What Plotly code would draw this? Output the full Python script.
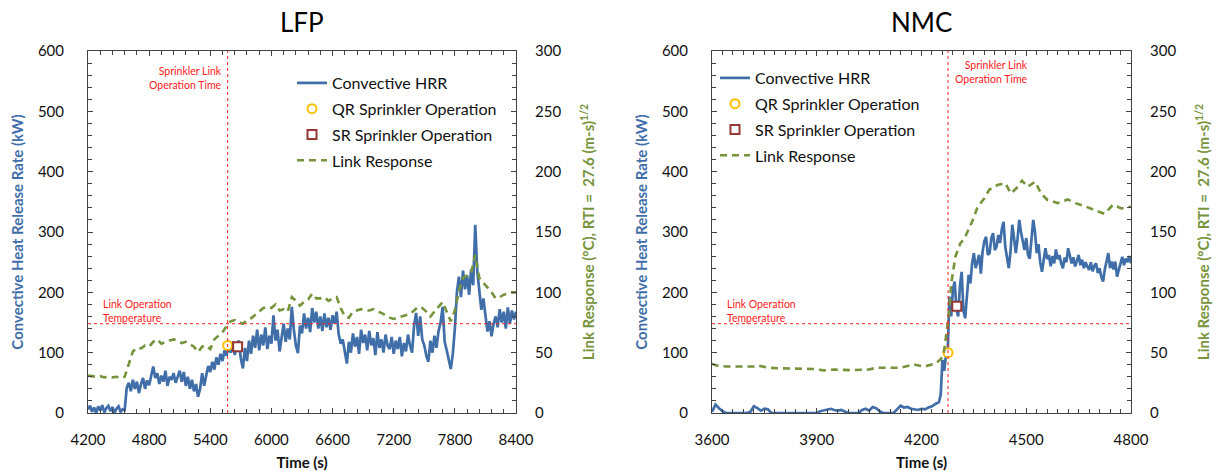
import plotly.graph_objects as go

# ---------------- data ----------------
# LFP convective HRR (kW), 20 s steps 4200..8400
lfp_t = list(range(4200, 8401, 20))
lfp_hrr = [
    6, 12, 2, 9, 0, 11, 4, 13, 1, 8, 12, 3, 10, 0, 7,
    11, 2, 6, 5, 42, 50, 36, 55, 40, 52, 33, 48, 58, 40, 54,
    46, 60, 77, 58, 66, 48, 62, 52, 70, 45, 60, 55, 66, 50, 62,
    70, 52, 68, 45, 60, 40, 55, 36, 48, 27, 40, 66, 45, 62, 78,
    68, 85, 72, 92, 80, 98, 86, 104, 95, 112, 100, 118, 96, 112, 120,
    90, 74, 108, 86, 120, 98, 128, 108, 138, 104, 130, 112, 142, 106, 128,
    115, 162, 120, 138, 102, 130, 148, 118, 140, 122, 176, 138, 112, 99, 145,
    132, 165, 140, 158, 134, 174, 150, 168, 140, 160, 136, 165, 142, 158, 138,
    162, 148, 168, 130, 115, 122, 104, 82, 118, 100, 132, 110, 126, 98, 138,
    116, 130, 104, 136, 112, 124, 96, 134, 108, 122, 100, 130, 112, 106, 126,
    98, 120, 106, 126, 94, 116, 102, 130, 112, 100, 145, 166, 128, 160, 122,
    112, 95, 85, 120, 100, 128, 108, 136, 150, 176, 118, 104, 90, 73, 98,
    140, 200, 226, 192, 236, 205, 228, 196, 238, 212, 312, 235, 200, 171, 190,
    160, 135, 152, 127, 148, 160, 142, 172, 150, 168, 140, 175, 148, 170, 155,
    168,
]
# LFP link response (degC), 40 s steps
lfp_link_t = list(range(4200, 8401, 40))
lfp_link = [
    31, 30.5, 30, 30.5, 29.5, 30, 29.5, 30, 29, 30,
    40, 51, 54, 53.5, 56, 55, 59, 61, 57.5, 59,
    60, 61, 60, 58, 59, 57, 55, 50.5, 55, 56,
    53, 61, 64, 67, 72, 76, 77, 75, 74, 77,
    78.5, 81, 84, 87, 88, 87, 90, 85, 86, 84,
    96, 93, 89, 92, 94, 99, 95, 95, 96, 93,
    95, 96, 87, 80, 79, 84, 85, 86, 85, 85,
    86, 84, 83, 81, 79, 78, 79, 80, 81, 82,
    85, 88, 87, 84, 80, 84, 88, 92, 84, 76,
    85, 101, 112, 114, 116, 131, 112, 108, 104, 100,
    95, 96, 98, 99, 100, 100,
]
lfp_qr = (5570, 112)
lfp_sr = (5668, 110)
lfp_op_time = 5570

# NMC convective HRR (kW)
nmc_t = list(range(3600, 4250, 10)) + list(range(4250, 4801, 5))
nmc_hrr = [
    2, 14, 8, 3, 0, 0, 0, 0, 0, 0,
    0, 2, 11, 8, 4, 7, 6, 0, 0, 0,
    0, 0, 0, 0, 0, 0, 1, 0, 0, 0,
    0, 3, 4, 6, 7, 5, 4, 5, 3, 0,
    0, 0, 0, 5, 7, 4, 10, 8, 3, 0,
    0, 0, 0, 6, 12, 9, 10, 7, 6, 5,
    7, 6, 9, 11, 15,
    18, 30, 88, 70, 95, 100, 193, 160, 205, 218,
    172, 160, 210, 234, 170, 157, 200, 229, 215, 248,
    265, 240, 251, 262, 231, 268, 285, 292, 262, 265,
    290, 298, 270, 276, 295, 282, 305, 317, 275, 259,
    240, 268, 312, 290, 265, 288, 320, 300, 282, 270,
    290, 262, 256, 295, 320, 300, 265, 280, 250, 234,
    258, 273, 255, 262, 243, 260, 248, 271, 255, 262,
    248, 240, 258, 250, 273, 262, 248, 258, 243, 252,
    262, 245, 254, 240, 250, 243, 237, 250, 235, 244,
    248, 232, 240, 226, 218, 238, 255, 265, 240, 251,
    238, 251, 226, 235, 248, 259, 245, 256, 250, 260,
    248,
]
nmc_link_t = [3600, 3610, 3640, 3680, 3720, 3730, 3760, 3800, 3850, 3890,
              3920, 3950, 4000, 4050, 4070, 4110, 4140, 4178, 4207, 4240,
              4253, 4263, 4272, 4279, 4285, 4297, 4311, 4323, 4347, 4361,
              4380, 4394, 4418, 4440, 4456, 4471, 4488, 4504, 4526, 4542,
              4561, 4590, 4619, 4643, 4671, 4700, 4724, 4748, 4772, 4800]
nmc_link = [41, 39.5, 38.5, 38.5, 38.5, 39.5, 37.5, 37, 37, 36.5,
            35.3, 36, 35.5, 36, 37.5, 37.5, 37.5, 40.2, 38.4, 41,
            44, 48, 66, 82.6, 107, 129.5, 140.6, 144.6, 160, 171,
            178, 185, 189, 190.5, 182, 186, 192.5, 187.5, 191.7, 182,
            176.5, 174, 177, 173.7, 171, 168, 165, 172.5, 169.6, 171]
nmc_qr = (4276, 100)
nmc_sr = (4301, 177)
nmc_op_time = 4276

link_temp = 74  # degC

hrr_range = [0, 600]
link_range = [0, 300]
lfp_xrange = [4200, 8400]
nmc_xrange = [3600, 4800]

# ---------------- styling ----------------
W, H = 1217, 471
ML, MR, MT, MB = 88, 86, 51, 58
PW = W - ML - MR
PH = H - MT - MB

def px(xp):
    return (xp - ML) / PW

def py(yp):
    return (H - MB - yp) / PH

FONT = "Lato, 'Open Sans', sans-serif"
BLUE = "#3F6EA9"
GREEN = "#77933C"
RED = "#FF2020"
ORANGE = "#FFC000"
DRED = "#953735"
AX = "#404040"

fig = go.Figure()

def add_panel(t, hrr, lt, link, qr, sr, xa, ya, ya2, leg):
    fig.add_trace(go.Scatter(x=t, y=hrr, mode="lines", name="Convective HRR",
                             line=dict(color=BLUE, width=2.7),
                             xaxis=xa, yaxis=ya, legend=leg, legendgroup=leg + "a"))
    fig.add_trace(go.Scatter(x=[qr[0]], y=[qr[1]], mode="markers", name="QR Sprinkler Operation",
                             marker=dict(symbol="circle", size=9, color="white",
                                         line=dict(color=ORANGE, width=2)),
                             xaxis=xa, yaxis=ya, legend=leg, legendgroup=leg + "b"))
    fig.add_trace(go.Scatter(x=[sr[0]], y=[sr[1]], mode="markers", name="SR Sprinkler Operation",
                             marker=dict(symbol="square", size=9, color="white",
                                         line=dict(color=DRED, width=2)),
                             xaxis=xa, yaxis=ya, legend=leg, legendgroup=leg + "c"))
    fig.add_trace(go.Scatter(x=lt, y=link, mode="lines", name="Link Response",
                             line=dict(color=GREEN, width=2.6, dash="7px,5px"),
                             xaxis=xa, yaxis=ya2, legend=leg, legendgroup=leg + "d"))

add_panel(lfp_t, lfp_hrr, lfp_link_t, lfp_link, lfp_qr, lfp_sr, "x", "y", "y2", "legend")
add_panel(nmc_t, nmc_hrr, nmc_link_t, nmc_link, nmc_qr, nmc_sr, "x2", "y3", "y4", "legend2")

tickfont = dict(family=FONT, size=15, color="#111")

def xax(domain, rng, dtick, minor, anchor):
    return dict(domain=domain, range=rng, dtick=dtick, tick0=rng[0], anchor=anchor,
                ticks="inside", ticklen=5, tickcolor=AX, showline=True, linecolor=AX,
                linewidth=1, mirror="ticks", showgrid=False, zeroline=False, automargin=False,
                minor=dict(dtick=minor, tick0=rng[0], ticks="inside", ticklen=4, tickcolor=AX),
                tickfont=tickfont, ticklabelstandoff=13,
                title=dict(text="<b>Time (s)</b>", font=dict(family=FONT, size=15, color="#111"),
                           standoff=13))

def yax(anchor):
    return dict(domain=[0, 1], range=hrr_range, dtick=100, anchor=anchor, ticks="inside",
                ticklen=5, tickcolor=AX, showline=True, linecolor=AX, linewidth=1, mirror=True,
                showgrid=False, zeroline=False, automargin=False,
                minor=dict(dtick=20, ticks="inside", ticklen=4, tickcolor=AX),
                tickfont=tickfont, ticklabelstandoff=20,
                title=dict(text="<b>Convective Heat Release Rate (kW)</b>",
                           font=dict(family=FONT, size=15, color=BLUE), standoff=10))

def y2ax(anchor, overlay):
    return dict(range=link_range, dtick=50, anchor=anchor, overlaying=overlay, side="right",
                ticks="inside", ticklen=5, tickcolor=AX, showline=True, linecolor=AX,
                linewidth=1, showgrid=False, zeroline=False, automargin=False,
                minor=dict(dtick=10, ticks="inside", ticklen=4, tickcolor=AX),
                tickfont=tickfont, ticklabelstandoff=15,
                title=dict(text="<b>Link Response (°C), RTI =  27.6 (m-s)<sup>1/2</sup></b>",
                           font=dict(family=FONT, size=15, color=GREEN), standoff=23))

d1 = [0, px(516)]
d2 = [px(712), 1]

shapes = []
annotations = []
for xa, ya, ya2, op, d in [("x", "y", "y2", lfp_op_time, d1), ("x2", "y3", "y4", nmc_op_time, d2)]:
    shapes.append(dict(type="line", xref=xa, yref=ya + " domain", x0=op, x1=op, y0=0, y1=1,
                       line=dict(color=RED, width=1, dash="dot")))
    shapes.append(dict(type="line", xref=xa + " domain", yref=ya2, x0=0, x1=1,
                       y0=link_temp, y1=link_temp, line=dict(color=RED, width=1, dash="dot")))

redfont = dict(family=FONT, size=10.5, color=RED)
annotations += [
    dict(text="Sprinkler Link<br>Operation Time", xref="x", yref="paper", x=lfp_op_time, y=py(63),
         xanchor="right", yanchor="top", align="right", xshift=-4, showarrow=False, font=redfont),
    dict(text="Sprinkler Link<br>Operation Time", xref="x2", yref="paper", x=nmc_op_time, y=py(57),
         xanchor="left", yanchor="top", align="right", xshift=5, showarrow=False, font=redfont),
    dict(text="Link Operation<br>Temperature", xref="x domain", yref="y2", x=0.03, y=link_temp,
         xanchor="left", yanchor="bottom", align="left", yshift=-2, showarrow=False, font=redfont),
    dict(text="Link Operation<br>Temperature", xref="x2 domain", yref="y4", x=0.031, y=link_temp,
         xanchor="left", yanchor="bottom", align="left", yshift=-2, showarrow=False, font=redfont),
    dict(text="LFP", xref="paper", yref="paper", x=(d1[0] + d1[1]) / 2, y=py(22),
         xanchor="center", yanchor="middle", showarrow=False,
         font=dict(family=FONT, size=26, color="#000")),
    dict(text="NMC", xref="paper", yref="paper", x=(d2[0] + d2[1]) / 2, y=py(22),
         xanchor="center", yanchor="middle", showarrow=False,
         font=dict(family=FONT, size=26, color="#000")),
]

legfont = dict(family=FONT, size=16, color="#111")

fig.update_layout(
    width=W, height=H, margin=dict(l=ML, r=MR, t=MT, b=MB),
    paper_bgcolor="white", plot_bgcolor="white",
    font=dict(family=FONT),
    xaxis=xax(d1, lfp_xrange, 600, 120, "y"),
    yaxis=yax("x"),
    yaxis2=y2ax("x", "y"),
    xaxis2=xax(d2, nmc_xrange, 300, 30, "y3"),
    yaxis3=yax("x2"),
    yaxis4=y2ax("x2", "y3"),
    shapes=shapes,
    annotations=annotations,
    legend=dict(x=px(292), y=py(66), xanchor="left", yanchor="top", font=legfont,
                bgcolor="rgba(0,0,0,0)", tracegroupgap=2, traceorder="grouped", itemwidth=30),
    legend2=dict(x=px(715), y=py(61), xanchor="left", yanchor="top", font=legfont,
                 bgcolor="rgba(0,0,0,0)", tracegroupgap=2, traceorder="grouped", itemwidth=30),
)

fig.write_html("out.html", config={"displayModeBar": False},
               post_script="document.body.style.margin='0px';")
